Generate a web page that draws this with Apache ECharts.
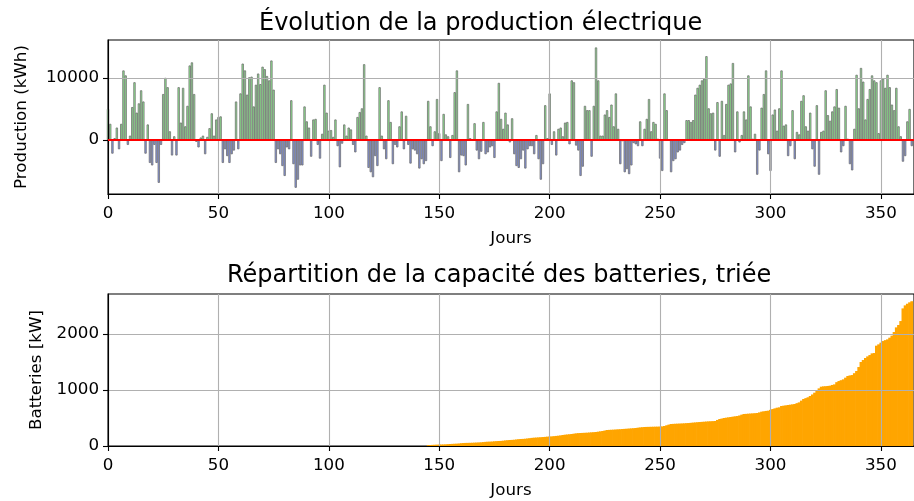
<!DOCTYPE html>
<html>
<head>
<meta charset="utf-8">
<script src="https://cdn.jsdelivr.net/npm/echarts@6/dist/echarts.min.js"></script>
<style>html,body{margin:0;padding:0;background:#fff}#chart{width:914px;height:501px}</style>
</head>
<body>
<div id="chart"></div>
<script>
// daily electricity balance (kWh), day 0 .. 364
var production = [
  5000,2600,-2200,300,2000,-1500,2600,11200,10400,-800,
  700,5300,9300,4400,5900,8000,6200,-2200,2500,-3700,
  -4100,-800,-3700,-6900,-800,7400,10000,8500,1400,-2500,
  600,-2500,8500,2800,8400,2200,5500,12000,12500,7400,
  -300,-1200,400,700,-2300,500,1900,4300,700,3300,
  3700,3800,-3700,-1500,-2600,-3700,-2300,-1700,6200,-1500,
  7500,12300,11200,7300,10100,10200,5400,8900,10700,9000,
  11800,11400,10300,9600,12800,8100,-3700,-1500,-2300,-4200,
  -5800,-1200,-1500,6400,-3900,-7700,-6400,-4100,-4100,5400,
  3000,2000,-2700,3300,3400,-800,-3000,1000,8900,4400,
  1500,1600,500,3300,-1000,-4400,-600,2500,700,2000,
  1700,-800,-2000,3700,4500,5100,12200,700,-4500,-5200,
  -6000,-2600,-4200,8500,700,-1500,-3100,6400,2900,-3900,
  -800,-1200,2200,4600,-1500,3900,-800,-3800,-1500,-1700,
  -2300,-4600,-3100,-3900,-3400,6300,2200,-1000,1400,6600,
  1100,-3400,4200,900,600,-2900,800,7700,11200,-5200,
  -2500,-2600,-4100,5800,300,-100,2700,-1700,-3100,-1900,
  2900,-2300,-2000,-1200,-1000,-2900,4600,9200,3400,1800,
  4400,2500,-400,3500,-2300,-4200,-4500,-3100,-1700,-4600,
  -1500,-1000,-1000,-2300,800,-3100,-6400,-3900,5600,300,
  7500,-800,1400,-2500,1800,2000,600,2800,2900,-700,
  9600,9300,-900,-1700,-5800,-4300,5500,4800,4800,-2700,
  5500,14900,9600,700,700,4100,4800,3700,5700,2200,
  7500,1800,-3900,-200,-5200,-4700,-5500,-4100,-500,-700,
  -1000,3000,-1000,1800,3400,6600,1400,2900,2600,200,
  -3000,-5000,7500,4800,-100,-5200,-3400,-3100,-2000,-1700,
  -800,-500,3200,3200,2900,3200,7300,8400,8900,9600,
  9900,13500,5100,4300,4400,-1700,6100,-2700,6300,800,
  5800,8900,9100,12400,-2000,4600,-400,800,4600,3300,
  10400,5400,200,1000,-5600,-1700,5200,7400,11200,-2300,
  -5000,4100,4900,1500,5100,11200,2300,2500,-2600,-1000,
  4800,-3100,1300,900,6300,7200,2200,1500,4400,-1500,
  -4300,5600,-5600,1300,1500,8000,4000,3100,4600,5400,
  8200,5200,-2000,-1000,5500,200,-3900,-4900,1800,10500,
  5100,11600,9400,3300,6600,8200,10400,9600,9300,1100,
  9600,9900,8400,10500,8500,5700,4800,8400,2200,600,
  -3500,-2600,3000,5000,-1000
];

// battery capacity (kW), sorted ascending, 365 values
var batteries = [
  0,0,0,0,0,0,0,0,0,0, 0,0,0,0,0,0,0,0,0,0,
  0,0,0,0,0,0,0,0,0,0, 0,0,0,0,0,0,0,0,0,0,
  0,0,0,0,0,0,0,0,0,0, 0,0,0,0,0,0,0,0,0,0,
  0,0,0,0,0,0,0,0,0,0, 0,0,0,0,0,0,0,0,0,0,
  0,0,0,0,0,0,0,0,0,0, 0,0,0,0,0,0,0,0,0,0,
  0,0,0,0,0,0,0,0,0,0, 0,0,0,0,0,0,0,0,0,0,
  0,0,0,0,0,0,0,0,0,0, 0,0,0,0,0,0,0,0,0,0,
  0,0,0,0,0,
  15,18,20,22,24,
  25,27,28,30,33,36,38,40,42,45,
  50,53,55,56,57,58,60,62,64,66,
  70,74,77,78,80,84,87,89,91,95,
  100,104,107,109,112,117,122,125,127,130,
  135,140,145,149,151,154,157,160,163,167,
  168,172,176,180,184,190,196,202,206,210,
  214,220,226,230,232,234,236,238,241,244,
  247,250,256,262,268,276,286,288,290,292,
  295,298,300,303,306,309,312,315,318,321,
  327,332,336,339,341,342,343,344,345,346,
  347,350,357,370,382,393,395,397,399,401,
  403,405,408,410,414,418,421,425,428,431,
  434,437,440,442,444,446,465,482,490,500,
  506,512,518,524,530,535,545,560,571,574,
  577,580,583,586,589,600,613,620,626,631,
  645,660,672,684,690,714,720,726,732,738,
  744,750,765,779,810,839,855,870,893,920,
  952,990,1029,1059,1065,1068,1072,1077,1090,1100,
  1140,1160,1175,1190,1220,1250,1260,1267,1300,1339,
  1410,1500,1535,1571,1600,1624,1654,1660,1791,1815,
  1845,1874,1890,1904,1934,1970,2035,2118,2160,2231,
  2457,2511,2540,2565,2585
];

var dayTicks = [0, 50, 100, 150, 200, 250, 300, 350];
var prodTicks = [0, 10000];
var battTicks = [0, 1000, 2000];

var font = 'DejaVu Sans';
var txt = {fontFamily: font, fontSize: 16.7, color: '#000'};

var prodData = production.map(function (v, i) { return [i, v]; });
var battData = batteries.map(function (v, i) { return [i, v]; });

function plain(v) { return String(v); }

function xAxisFor(g) {
  return {
    type: 'value', gridIndex: g, min: 0, max: 365, z: 3,
    name: 'Jours', nameLocation: 'middle', nameGap: 36, nameTextStyle: txt,
    axisLine: {onZero: false, lineStyle: {color: '#000', width: 1.1}},
    axisTick: {customValues: dayTicks, length: 5, lineStyle: {color: '#000', width: 1.1}},
    axisLabel: {customValues: dayTicks, formatter: plain, margin: 11, fontFamily: font, fontSize: 16.7, color: '#000'},
    splitLine: {show: true, lineStyle: {color: '#b0b0b0', width: 1.1}}
  };
}

function yAxisFor(g, min, max, ticks, name, gap) {
  return {
    type: 'value', gridIndex: g, min: min, max: max, z: 3,
    name: name, nameLocation: 'middle', nameGap: gap, nameTextStyle: txt,
    axisLine: {show: true, onZero: false, lineStyle: {color: '#000', width: 1.1}},
    axisTick: {show: true, customValues: ticks, length: 5, lineStyle: {color: '#000', width: 1.1}},
    axisLabel: {customValues: ticks, formatter: plain, margin: 9, fontFamily: font, fontSize: 16.7, color: '#000'},
    splitLine: {show: true, lineStyle: {color: '#b0b0b0', width: 1.1}}
  };
}

var chart = echarts.init(document.getElementById('chart'));
chart.setOption({
  animation: false,
  backgroundColor: '#fff',
  title: [
    {text: 'Évolution de la production électrique', left: 254, top: 7,
     textStyle: {fontFamily: font, fontSize: 24, fontWeight: 'normal', color: '#000'}},
    {text: 'Répartition de la capacité des batteries, triée', left: 222, top: 259,
     textStyle: {fontFamily: font, fontSize: 24, fontWeight: 'normal', color: '#000'}}
  ],
  grid: [
    {left: 108, top: 40, width: 814, height: 154, show: true, borderColor: '#000', borderWidth: 1.1},
    {left: 108, top: 294, width: 814, height: 152, show: true, borderColor: '#000', borderWidth: 1.1}
  ],
  xAxis: [xAxisFor(0), xAxisFor(1)],
  yAxis: [
    yAxisFor(0, -8700, 16100, prodTicks, 'Production (kWh)', 78),
    yAxisFor(1, 0, 2714, battTicks, 'Batteries [kW]', 60)
  ],
  series: [
    {
      type: 'bar', xAxisIndex: 0, yAxisIndex: 0, data: prodData,
      barWidth: 2.3, silent: true,
      itemStyle: {
        borderColor: '#707070', borderWidth: 0.8,
        color: function (p) { return p.value[1] >= 0 ? '#90ee90' : '#8494e0'; }
      },
      markLine: {
        silent: true, symbol: 'none', z: 10, label: {show: false},
        lineStyle: {color: '#ff0000', width: 2.2, type: 'solid'},
        data: [{yAxis: 0}]
      }
    },
    {
      type: 'bar', xAxisIndex: 1, yAxisIndex: 1, data: battData,
      barWidth: 2.9, silent: true,
      itemStyle: {color: '#ffa500'}
    }
  ]
});
</script>
</body>
</html>
